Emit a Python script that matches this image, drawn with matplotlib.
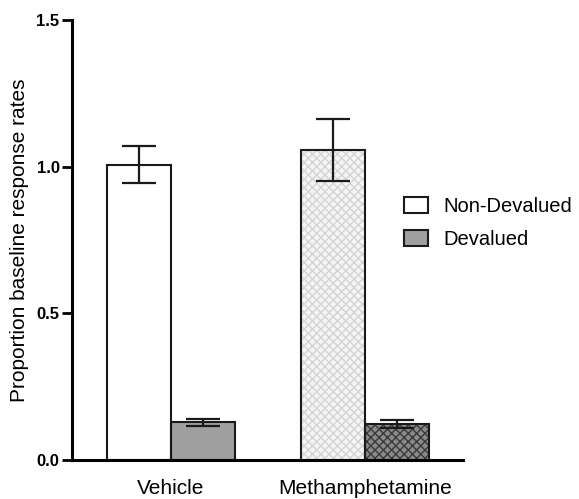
import numpy as np
import matplotlib.pyplot as plt

plt.rcParams['font.family'] = ['Liberation Sans', 'DejaVu Sans']

groups = ['Vehicle', 'Methamphetamine']
series = ['Non-Devalued', 'Devalued']
nondev_mean = [1.007, 1.058]
nondev_err = [0.064, 0.106]
dev_mean = [0.129, 0.123]
dev_err = [0.012, 0.013]

fig = plt.figure(figsize=(5.79, 4.99), dpi=100)
ax = fig.add_axes([72/579, 39/499, (463-72)/579, (460-20)/499])

x = np.arange(len(groups))
w = 0.33
ekw = dict(fmt='none', ecolor='#1a1a1a', elinewidth=1.6, capsize=12, capthick=1.6, zorder=4)

# Non-Devalued: Vehicle plain white, Methamphetamine light checker
fills_nd = ['white', '#f4f4f4']
hatch_nd = [None, 'xxxx']
hcol_nd = ['white', '#d4d4d4']
fills_d = ['#9f9f9f', '#8a8a8a']
hatch_d = [None, 'xxxx']
hcol_d = ['#9f9f9f', '#3a3a3a']

for i in range(len(groups)):
    xn = x[i] - w/2
    xd = x[i] + w/2
    ax.bar(xn, nondev_mean[i], w, color=fills_nd[i], hatch=hatch_nd[i],
           edgecolor=hcol_nd[i], linewidth=0, zorder=2)
    ax.bar(xn, nondev_mean[i], w, fill=False, edgecolor='#1a1a1a', linewidth=1.5, zorder=3)
    ax.bar(xd, dev_mean[i], w, color=fills_d[i], hatch=hatch_d[i],
           edgecolor=hcol_d[i], linewidth=0, zorder=2)
    ax.bar(xd, dev_mean[i], w, fill=False, edgecolor='#1a1a1a', linewidth=1.5, zorder=3)
    ax.errorbar(xn, nondev_mean[i], yerr=nondev_err[i], **ekw)
    ax.errorbar(xd, dev_mean[i], yerr=dev_err[i], **ekw)

ax.set_xlim(-0.51, 1.505)
ax.set_ylim(0, 1.5)
ax.set_yticks([0, 0.5, 1.0, 1.5])
ax.set_yticklabels(['0.0', '0.5', '1.0', '1.5'], fontweight='bold', fontsize=12)
ax.set_xticks(x)
ax.set_xticklabels(groups, fontsize=15)
ax.tick_params(axis='x', length=0, pad=14)
ax.tick_params(axis='y', length=7, width=2, pad=2)
ax.set_ylabel('Proportion baseline response rates', fontsize=15, labelpad=5)
for s in ['top', 'right']:
    ax.spines[s].set_visible(False)
for s in ['left', 'bottom']:
    ax.spines[s].set_linewidth(2.2)
ax.spines['bottom'].set_zorder(5)

h1 = plt.Rectangle((0, 0), 1, 1, facecolor='white', edgecolor='#1a1a1a', linewidth=1.5)
h2 = plt.Rectangle((0, 0), 1, 1, facecolor='#9f9f9f', edgecolor='#1a1a1a', linewidth=1.5)
fig.legend([h1, h2], series, loc='upper left', bbox_to_anchor=(404/579, 1 - 197/499),
           frameon=False, fontsize=14.5, handlelength=1.2, handleheight=0.8,
           handletextpad=0.75, labelspacing=0.7, borderpad=0, borderaxespad=0)

fig.savefig('out.png', dpi=100)
